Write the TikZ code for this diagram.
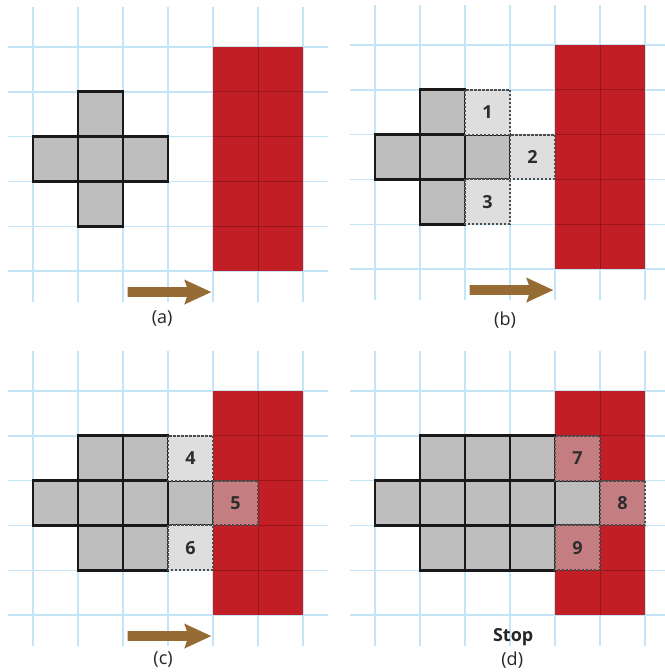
\documentclass[tikz,border=0pt]{standalone}
\usepackage{fontspec}
\setmainfont{Open Sans}
\definecolor{gridblue}{RGB}{196,228,248}
\definecolor{wallred}{RGB}{193,30,38}
\definecolor{wallline}{RGB}{150,20,26}
\definecolor{cellgray}{RGB}{190,190,190}
\definecolor{trialgray}{RGB}{222,222,222}
\definecolor{trialpink}{RGB}{196,126,130}
\definecolor{arrowbrown}{RGB}{150,108,52}
\definecolor{numtext}{RGB}{45,45,45}
\tikzset{
  gridline/.style={draw=gridblue,line width=1.4pt},
  wallfill/.style={fill=wallred},
  wallsep/.style={draw=wallline,line width=0.8pt},
  solidcellst/.style={fill=cellgray,draw=black!90,line width=2.7pt,line join=miter},
  trialcellst/.style={draw=black!70,line width=1.9pt,dash pattern=on 2.2pt off 1.8pt},
  numlabel/.style={font=\bfseries\fontsize{18}{18}\selectfont,text=numtext,inner sep=0pt},
  caplabel/.style={font=\fontsize{18}{18}\selectfont,text=black!85,inner sep=0pt},
  arrowst/.style={fill=arrowbrown}
}
\newcommand{\gridpanel}{%
  \foreach \i in {0,...,6} \draw[gridline] (\i,-0.9) -- (\i,5.7);
  \foreach \j in {0,...,5} \draw[gridline] (-0.55,\j) -- (6.55,\j);
  \fill[wallfill] (4,0) rectangle (6,5);
  \draw[wallsep] (5,0) -- (5,5);
  \foreach \j in {1,...,4} \draw[wallsep] (4,\j) -- (6,\j);
}
\newcommand{\solidcell}[2]{\draw[solidcellst] (#1,#2) rectangle ++(1,1);}
% #1 col, #2 row, #3 fill colour, #4 name, #5 text
\newcommand{\trialcell}[5]{%
  \fill[#3] (#1,#2) rectangle ++(1,1);
  \draw[trialcellst] (#1,#2) rectangle ++(1,1);
  \node[numlabel] (#4) at (#1+0.5,#2+0.5) {#5};
}
\newcommand{\movearrow}{%
  \fill[arrowst] (2.1,5.36) -- (3.42,5.36) -- (3.36,5.19) -- (3.96,5.47)
     -- (3.36,5.75) -- (3.42,5.58) -- (2.1,5.58) -- cycle;
}
\begin{document}
\begin{tikzpicture}[x=1pt,y=-1pt]
\useasboundingbox (0,0) rectangle (664,672);
\fill[white] (0,0) rectangle (664,672);

% (a)
\begin{scope}[shift={(33,47)},x=45pt,y=-44.8pt]
  \gridpanel
  \solidcell{1}{1}
  \solidcell{0}{2}\solidcell{1}{2}\solidcell{2}{2}
  \solidcell{1}{3}
  \movearrow
  \node[caplabel] (capa) at (2.87,6.07) {(a)};
\end{scope}

% (b)
\begin{scope}[shift={(375,45)},x=45pt,y=-44.8pt]
  \gridpanel
  \solidcell{1}{1}
  \solidcell{0}{2}\solidcell{1}{2}\solidcell{2}{2}
  \solidcell{1}{3}
  \trialcell{2}{1}{trialgray}{n1}{1}
  \trialcell{3}{2}{trialgray}{n2}{2}
  \trialcell{2}{3}{trialgray}{n3}{3}
  \movearrow
  \node[caplabel] (capb) at (2.89,6.13) {(b)};
\end{scope}

% (c)
\begin{scope}[shift={(33,391)},x=45pt,y=-44.8pt]
  \gridpanel
  \solidcell{1}{1}\solidcell{2}{1}
  \solidcell{0}{2}\solidcell{1}{2}\solidcell{2}{2}\solidcell{3}{2}
  \solidcell{1}{3}\solidcell{2}{3}
  \trialcell{3}{1}{trialgray}{n4}{4}
  \trialcell{4}{2}{trialpink}{n5}{5}
  \trialcell{3}{3}{trialgray}{n6}{6}
  \movearrow
  \node[caplabel] (capc) at (2.89,6.0) {(c)};
\end{scope}

% (d)
\begin{scope}[shift={(375,391)},x=45pt,y=-44.8pt]
  \gridpanel
  \solidcell{1}{1}\solidcell{2}{1}\solidcell{3}{1}
  \solidcell{0}{2}\solidcell{1}{2}\solidcell{2}{2}\solidcell{3}{2}\solidcell{4}{2}
  \solidcell{1}{3}\solidcell{2}{3}\solidcell{3}{3}
  \trialcell{4}{1}{trialpink}{n7}{7}
  \trialcell{5}{2}{trialpink}{n8}{8}
  \trialcell{4}{3}{trialpink}{n9}{9}
  \node[caplabel,font=\bfseries\fontsize{18}{18}\selectfont] (stop) at (3.07,5.5) {Stop};
  \node[caplabel] (capd) at (3.05,6.0) {(d)};
\end{scope}
\end{tikzpicture}
\end{document}
